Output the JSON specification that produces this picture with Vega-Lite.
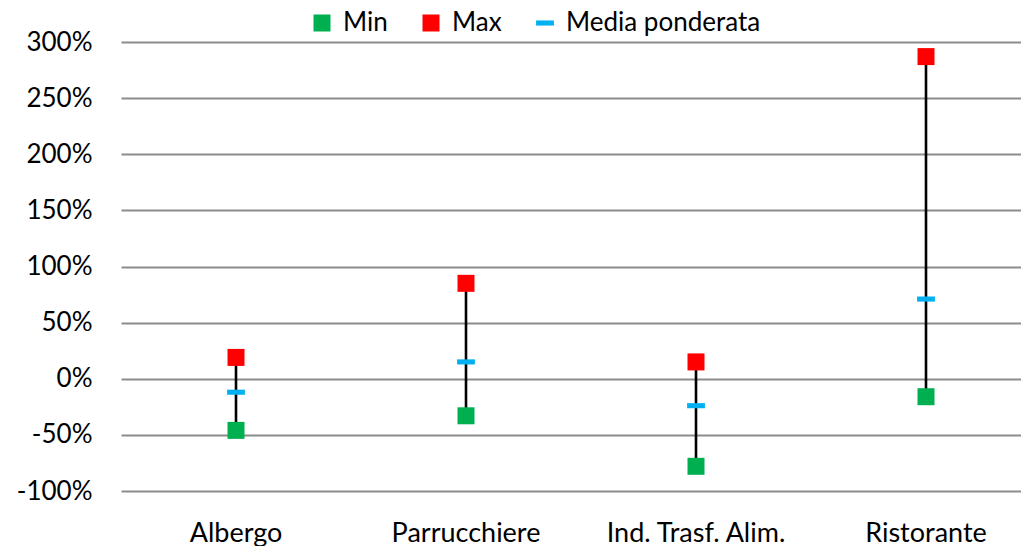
{
  "$schema": "https://vega.github.io/schema/vega-lite/v6.json",
  "autosize": {"type": "none"},
  "width": 900,
  "height": 449,
  "padding": {"left": 121, "top": 42, "right": 0, "bottom": 55},
  "background": "white",
  "data": {
    "values": [
      {"categoria": "Albergo", "Min": -0.46, "Max": 0.19, "Media ponderata": -0.12},
      {"categoria": "Parrucchiere", "Min": -0.33, "Max": 0.85, "Media ponderata": 0.15},
      {"categoria": "Ind. Trasf. Alim.", "Min": -0.78, "Max": 0.15, "Media ponderata": -0.24},
      {"categoria": "Ristorante", "Min": -0.16, "Max": 2.87, "Media ponderata": 0.71}
    ]
  },
  "encoding": {
    "x": {
      "field": "categoria",
      "type": "nominal",
      "sort": null,
      "title": null,
      "scale": {"type": "band", "range": [0, 920], "paddingInner": 0, "paddingOuter": 0},
      "axis": {
        "domain": false,
        "ticks": false,
        "grid": false,
        "labelAngle": 0,
        "labelLimit": 0,
        "labelFont": "Lato",
        "labelFontSize": 27,
        "labelColor": "#000000",
        "labelPadding": 29
      }
    }
  },
  "layer": [
    {
      "mark": {"type": "rule", "color": "#000000", "strokeWidth": 2.6},
      "encoding": {
        "y": {
          "field": "Min",
          "type": "quantitative",
          "title": null,
          "scale": {"domain": [-1, 3], "nice": false, "zero": false},
          "axis": {
            "values": [-1, -0.5, 0, 0.5, 1, 1.5, 2, 2.5, 3],
            "labelExpr": "replace(format(datum.value, '.0%'), '\u2212', '-')",
            "domain": false,
            "ticks": false,
            "grid": true,
            "gridColor": "#8C8C8C",
            "gridWidth": 2,
            "labelLimit": 0,
            "labelFont": "Lato",
            "labelFontSize": 26,
            "labelColor": "#000000",
            "labelPadding": 29
          }
        },
        "y2": {"field": "Max"}
      }
    },
    {
      "transform": [
        {"fold": ["Min", "Max", "Media ponderata"], "as": ["serie", "valore"]}
      ],
      "mark": {"type": "point", "filled": true, "opacity": 1, "strokeWidth": 0},
      "encoding": {
        "y": {"field": "valore", "type": "quantitative"},
        "color": {
          "field": "serie",
          "type": "nominal",
          "title": null,
          "scale": {
            "domain": ["Min", "Max", "Media ponderata"],
            "range": ["#00B050", "#FF0000", "#00B0F0"]
          },
          "legend": {
            "title": null,
            "orient": "none",
            "legendX": 188,
            "legendY": -32,
            "direction": "horizontal",
            "labelFont": "Lato",
            "labelFontSize": 26,
            "labelColor": "#000000",
            "labelLimit": 0,
            "symbolSize": 256,
            "symbolStrokeWidth": 0,
            "columnPadding": 30,
            "labelOffset": 8
          }
        },
        "shape": {
          "field": "serie",
          "type": "nominal",
          "title": null,
          "scale": {
            "domain": ["Min", "Max", "Media ponderata"],
            "range": ["square", "square", "M-1.05,-0.3H1.05V0.3H-1.05Z"]
          },
          "legend": {
            "title": null,
            "orient": "none",
            "legendX": 188,
            "legendY": -32,
            "direction": "horizontal",
            "labelFont": "Lato",
            "labelFontSize": 26,
            "labelColor": "#000000",
            "labelLimit": 0,
            "symbolSize": 256,
            "symbolStrokeWidth": 0,
            "columnPadding": 30,
            "labelOffset": 8
          }
        },
        "size": {
          "field": "serie",
          "type": "nominal",
          "legend": null,
          "scale": {
            "domain": ["Min", "Max", "Media ponderata"],
            "range": [289, 289, 484]
          }
        }
      }
    }
  ],
  "config": {
    "view": {"stroke": null}
  }
}
